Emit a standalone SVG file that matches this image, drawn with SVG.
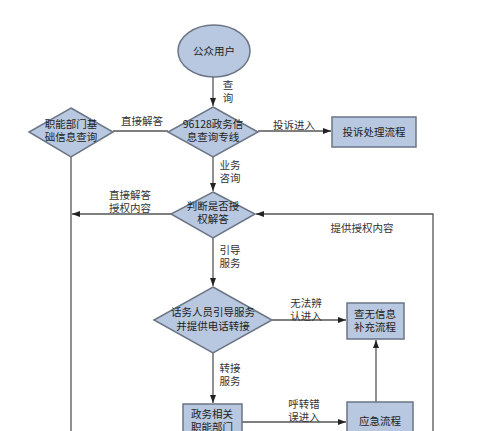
<svg xmlns="http://www.w3.org/2000/svg" width="500" height="431" viewBox="0 0 500 431">
<defs>
<marker id="arr" markerWidth="8" markerHeight="6" refX="8" refY="3" orient="auto" markerUnits="userSpaceOnUse">
<path d="M0,0 L8,3 L0,6 Z" fill="#222"/>
</marker>
<style>
.shape{fill:#b8c8e0;stroke:#6b7585;stroke-width:1.5}
.ln{fill:none;stroke:#555;stroke-width:1.3}
.t{font-family:"Noto Sans CJK SC","Liberation Sans",sans-serif;font-size:10.5px;fill:#222;text-anchor:middle}
.l{font-family:"Noto Sans CJK SC","Liberation Sans",sans-serif;font-size:10.5px;fill:#333;text-anchor:middle}
</style>
</defs>
<rect width="500" height="431" fill="#fff"/>
<g id="connectors">
<path class="ln" d="M213,77 V106" marker-end="url(#arr)"/>
<path class="ln" d="M258,131 H331" marker-end="url(#arr)"/>
<path class="ln" d="M168,131 H113"/>
<path class="ln" d="M71,157 V431"/>
<path class="ln" d="M213,157 V191" marker-end="url(#arr)"/>
<path class="ln" d="M171,214 H72" marker-end="url(#arr)"/>
<path class="ln" d="M433,431 V214 H256" marker-end="url(#arr)"/>
<path class="ln" d="M213,238 V286" marker-end="url(#arr)"/>
<path class="ln" d="M272,320 H346" marker-end="url(#arr)"/>
<path class="ln" d="M213,353 V403" marker-end="url(#arr)"/>
<path class="ln" d="M242,422 H346" marker-end="url(#arr)"/>
<path class="ln" d="M376,402 V340" marker-end="url(#arr)"/>
<text class="l" x="228" y="89">查</text>
<text class="l" x="228" y="102">询</text>
<text class="l" x="142" y="125">直接解答</text>
<text class="l" x="294" y="129">投诉进入</text>
<text class="l" x="230" y="169">业务</text>
<text class="l" x="230" y="182">咨询</text>
<text class="l" x="130" y="199">直接解答</text>
<text class="l" x="130" y="212">授权内容</text>
<text class="l" x="362" y="232">提供授权内容</text>
<text class="l" x="230" y="254">引导</text>
<text class="l" x="230" y="267">服务</text>
<text class="l" x="306" y="307">无法辨</text>
<text class="l" x="306" y="320">认进入</text>
<text class="l" x="230" y="372">转接</text>
<text class="l" x="230" y="385">服务</text>
<text class="l" x="304" y="408">呼转错</text>
<text class="l" x="304" y="421">误进入</text>
</g>
<g id="n-user">
<ellipse class="shape" cx="214" cy="51" rx="36" ry="26"/>
<text class="t" x="214" y="55">公众用户</text>
</g>
<g id="n-hotline">
<polygon class="shape" points="213,107 258,132 213,157 168,132"/>
<text class="t" x="213" y="128">96128政务信</text>
<text class="t" x="213" y="141">息查询专线</text>
</g>
<g id="n-basic">
<polygon class="shape" points="71,108 113,132 71,157 29,132"/>
<text class="t" x="71" y="128">职能部门基</text>
<text class="t" x="71" y="141">础信息查询</text>
</g>
<g id="n-complaint">
<rect class="shape" x="332" y="117" width="84" height="30"/>
<text class="t" x="374" y="136">投诉处理流程</text>
</g>
<g id="n-judge">
<polygon class="shape" points="213,192 255,214 213,238 171,214"/>
<text class="t" x="213" y="210">判断是否授</text>
<text class="t" x="213" y="223">权解答</text>
</g>
<g id="n-guide">
<polygon class="shape" points="213,287 272,320 213,353 154,320"/>
<text class="t" x="213" y="316">话务人员引导服务</text>
<text class="t" x="213" y="330">并提供电话转接</text>
</g>
<g id="n-supplement">
<rect class="shape" x="347" y="303" width="57" height="36"/>
<text class="t" x="375" y="318">查无信息</text>
<text class="t" x="375" y="331">补充流程</text>
</g>
<g id="n-dept">
<rect class="shape" x="183" y="404" width="59" height="40"/>
<text class="t" x="212" y="418">政务相关</text>
<text class="t" x="212" y="431">职能部门</text>
</g>
<g id="n-emergency">
<rect class="shape" x="347" y="402" width="66" height="40"/>
<text class="t" x="380" y="425">应急流程</text>
</g>
</svg>
